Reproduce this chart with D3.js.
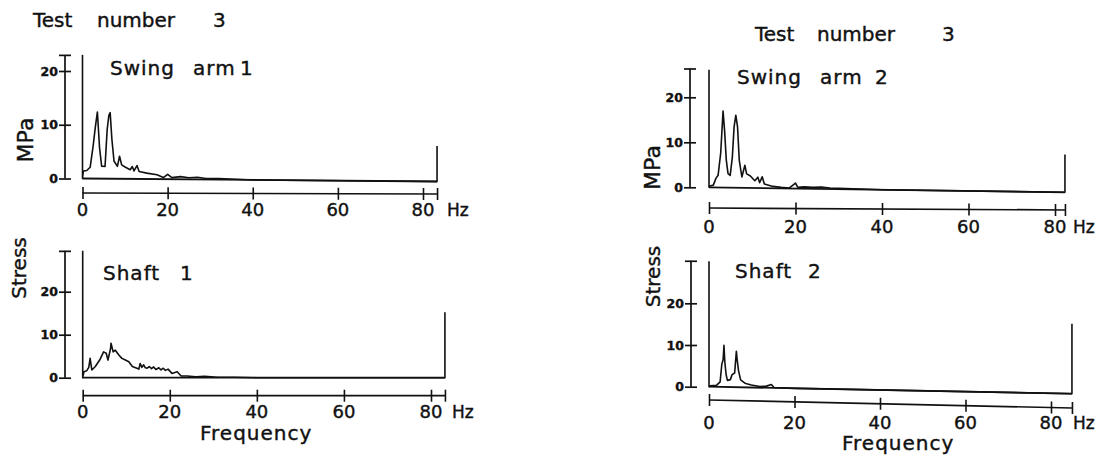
<!DOCTYPE html>
<html><head><meta charset="utf-8">
<script src="https://cdn.jsdelivr.net/npm/d3@7"></script>
<style>
html,body{margin:0;padding:0;background:#fff;}
svg{display:block;background:#fff;}
text{font-family:"DejaVu Sans",sans-serif;fill:#111;stroke:#111;stroke-width:0.4px;}
</style></head><body>
<svg id="chart" width="1099" height="461"></svg>
<script>
// ---- data ----------------------------------------------------------------
const testTitle = ["Test", "number", "3"];
const panelNames = ["Swing arm 1", "Shaft 1", "Swing arm 2", "Shaft 2"];
const yAxisLabels = ["MPa", "Stress", "MPa", "Stress"];
const freqTicks = [0, 20, 40, 60, 80];
const stressTicks = [0, 10, 20];
const stressAxisTop = [23, 29.5, 26.4, 30.2];
const freqEnd = [83.3, 83.2, 82.3, 84.9];

// amplitude spectra: frequency in Hz, stress amplitude in MPa
const swingArm1Freq = [0, 0, 0.2, 1.0, 1.8, 2.5, 3.0, 3.5, 4.0, 4.5, 5.3, 5.8, 6.2, 6.5, 6.9, 7.4, 8.2, 8.7, 9.2, 10.0, 11.2, 11.7, 12.1, 12.8, 13.3, 15.1, 17.5, 19.0, 20.0, 21.0, 23.0, 25.0, 27.0, 29.0, 32.0, 36.0, 40.0, 83.3, 83.3];
const swingArm1Stress = [23, 0, 1.4, 1.5, 2.1, 6.1, 9.5, 12.4, 5.8, 2.3, 2.3, 9.2, 11.8, 12.3, 7.4, 3.3, 2.3, 4.2, 2.6, 2.2, 1.7, 2.3, 1.5, 2.5, 1.4, 1.1, 0.8, 0.3, 0.9, 0.3, 0.5, 0.3, 0.4, 0.2, 0.2, 0.1, 0, 0, 6.6];

const shaft1Freq = [0, 0, 0.3, 0.9, 1.4, 1.7, 2.1, 2.9, 3.9, 4.8, 5.4, 5.8, 6.4, 6.5, 7.0, 7.5, 8.3, 9.0, 9.8, 10.6, 11.4, 12.9, 13.2, 13.6, 14.0, 14.4, 14.8, 15.3, 15.8, 16.3, 16.8, 17.5, 18.0, 18.5, 19.0, 19.6, 20.5, 21.7, 22.6, 24.0, 26.0, 28.0, 31.0, 35.0, 40.0, 83.2, 83.2];
const shaft1Stress = [29.5, 0, 1.4, 1.6, 2.4, 4.5, 1.8, 2.6, 4.1, 6.0, 5.7, 4.1, 6.8, 8.0, 6.0, 6.4, 5.3, 4.5, 4.1, 3.7, 2.6, 2.0, 3.3, 2.4, 3.0, 2.3, 2.2, 2.6, 2.1, 2.5, 1.9, 2.3, 1.8, 2.2, 1.7, 2.0, 1.0, 1.4, 0.4, 0.4, 0.2, 0.3, 0.1, 0.1, 0, 0, 15.2];

const swingArm2Freq = [0, 0, 0.2, 1.0, 1.6, 2.1, 2.7, 3.0, 3.25, 3.6, 4.0, 4.4, 4.9, 5.4, 5.8, 6.2, 6.6, 7.0, 7.6, 8.3, 8.7, 9.5, 10.6, 11.3, 11.7, 12.3, 12.8, 14.8, 16.7, 18.6, 20.0, 20.5, 22.0, 24.0, 26.0, 28.0, 30.0, 35.0, 40.0, 82.3, 82.3];
const swingArm2Stress = [26.1, 0, 0.3, 0.5, 2.0, 2.7, 7.6, 12.7, 17.0, 12.7, 6.1, 3.1, 2.7, 6.8, 13.5, 16.1, 13.5, 6.1, 2.4, 5.0, 3.1, 2.7, 1.6, 2.4, 1.2, 2.5, 0.9, 0.4, 0.2, 0.1, 1.2, 0.3, 0.4, 0.3, 0.4, 0.2, 0.2, 0.1, 0, 0, 8.4];

const shaft2Freq = [0, 0, 0.2, 1.8, 2.6, 3.0, 3.3, 3.5, 3.7, 4.0, 4.3, 5.0, 5.4, 6.0, 6.2, 6.4, 6.6, 6.9, 7.4, 8.4, 9.9, 11.9, 13.4, 14.6, 15.2, 20.0, 84.9, 84.9];
const shaft2Stress = [30.1, 0, 0.2, 0.4, 1.2, 5.5, 6.5, 10.0, 6.0, 3.0, 1.6, 1.8, 3.0, 3.4, 6.0, 8.6, 6.5, 4.0, 1.8, 1.0, 0.6, 0.3, 0.4, 0.8, 0.1, 0, 0, 16.8];

const spectraFreq = [swingArm1Freq, shaft1Freq, swingArm2Freq, shaft2Freq];
const spectraStress = [swingArm1Stress, shaft1Stress, swingArm2Stress, shaft2Stress];

// ---- layout of the four panels ------------------------------------------
const layout = [
  {yAxisX: 65, xZero: 82.5, xEighty: 423, yZero: 178.5, yTwenty: 71, xAxisY: 193, tickLabelY: 216, hzX: 447,
   drift: 3, axisDrift: 1, nameX: [110, 193, 240], nameY: 75, yLab: {x: 33, y: 140, size: 22},
   title: {x: [33, 97, 213], y: 27}, freqLabel: null},
  {yAxisX: 65, xZero: 82.7, xEighty: 431, yZero: 377.7, yTwenty: 291.7, xAxisY: 395.7, tickLabelY: 418, hzX: 452,
   drift: 0, axisDrift: 0, nameX: [103, 180], nameY: 280, yLab: {x: 26, y: 268, size: 20},
   title: null, freqLabel: {x: 200, y: 440}},
  {yAxisX: 690, xZero: 709, xEighty: 1055, yZero: 187.3, yTwenty: 97.3, xAxisY: 208, tickLabelY: 233, hzX: 1073,
   drift: 5, axisDrift: 2, nameX: [737, 820, 875], nameY: 84, yLab: {x: 660, y: 167.5, size: 22},
   title: {x: [755, 817, 942], y: 41}, freqLabel: null},
  {yAxisX: 691, xZero: 709, xEighty: 1051, yZero: 386.7, yTwenty: 303.3, xAxisY: 400, tickLabelY: 429, hzX: 1073,
   drift: 7, axisDrift: 8, nameX: [735, 808], nameY: 278, yLab: {x: 660, y: 276.5, size: 20},
   title: null, freqLabel: {x: 842, y: 450}}
];

const ink = "#111";
const svg = d3.select("#chart");

// shear about (x0, y0) so the trace drops by `drop` px over `width` px
function skew(x0, y0, drop, width) {
  const ang = Math.atan(drop / width) * 180 / Math.PI;
  return `translate(${x0},${y0}) skewY(${ang}) translate(${-x0},${-y0})`;
}

layout.forEach((L, i) => {
  const g = svg.append("g");
  const fEnd = freqEnd[i];
  const x = d3.scaleLinear().domain([0, 80]).range([L.xZero, L.xEighty]);
  const y = d3.scaleLinear().domain([0, 20]).range([L.yZero, L.yTwenty]);
  const xEnd = x(fEnd);

  // stress axis with crossing ticks and a cap at the top
  const yAxis = d3.axisLeft(y).tickValues(stressTicks.concat([stressAxisTop[i]]))
    .tickSize(6).tickPadding(1).tickFormat(d => stressTicks.includes(d) ? d : "");
  const ya = g.append("g").attr("transform", `translate(${L.yAxisX},0)`).call(yAxis);
  ya.select(".domain").remove();
  ya.append("line").attr("x1", 0).attr("x2", 0).attr("y1", y(0)).attr("y2", y(stressAxisTop[i]))
    .attr("stroke", ink).attr("stroke-width", 1.7);
  ya.selectAll(".tick line").attr("x1", -6).attr("x2", 6).attr("stroke", ink).attr("stroke-width", 1.7);
  ya.selectAll(".tick text").attr("font-family", "DejaVu Sans Condensed").attr("font-weight", "bold")
    .attr("font-size", 12.5).attr("fill", ink).attr("x", -7);

  // frequency axis: line and ticks follow the slight drift of the trace
  const xg = g.append("g").attr("transform", skew(L.xZero, L.xAxisY, L.axisDrift, xEnd - L.xZero));
  const xAxis = d3.axisBottom(x).tickValues(freqTicks.concat([fEnd])).tickSize(6).tickFormat("");
  const xa = xg.append("g").attr("transform", `translate(0,${L.xAxisY})`).call(xAxis);
  xa.select(".domain").remove();
  xa.append("line").attr("x1", L.xZero).attr("x2", xEnd).attr("y1", 0).attr("y2", 0)
    .attr("stroke", ink).attr("stroke-width", 1.7);
  xa.selectAll(".tick line").attr("y1", -6).attr("y2", 6).attr("stroke", ink).attr("stroke-width", 1.6);

  // frequency tick labels
  g.selectAll(".flab").data(freqTicks).join("text").attr("class", "flab")
    .attr("x", d => x(d)).attr("y", L.tickLabelY).attr("text-anchor", "middle")
    .attr("font-size", 18).text(d => d);
  g.append("text").attr("x", L.hzX).attr("y", L.tickLabelY).attr("font-size", 17).text("Hz");

  // spectrum trace and its zero line
  const pg = g.append("g").attr("transform", skew(L.xZero, L.yZero, L.drift, xEnd - L.xZero));
  const line = d3.line().x(d => x(d[0])).y(d => y(d[1]));
  pg.append("path").attr("d", line([[0, 0], [fEnd, 0]]))
    .attr("fill", "none").attr("stroke", ink).attr("stroke-width", 1.8);
  const pts = spectraFreq[i].map((f, k) => [f, spectraStress[i][k]]);
  pg.append("path").attr("d", line(pts)).attr("fill", "none").attr("stroke", ink)
    .attr("stroke-width", 1.6).attr("stroke-linejoin", "round");

  // panel name
  const nameText = g.append("text").attr("y", L.nameY).attr("font-size", 20).attr("letter-spacing", 1);
  panelNames[i].split(" ").forEach((w, k) => nameText.append("tspan").attr("x", L.nameX[k]).text(w));

  // vertical axis label
  g.append("text").attr("transform", `translate(${L.yLab.x},${L.yLab.y}) rotate(-90)`)
    .attr("text-anchor", "middle").attr("font-size", L.yLab.size).text(yAxisLabels[i]);

  if (L.title) {
    const t = g.append("text").attr("y", L.title.y).attr("font-size", 20);
    testTitle.forEach((w, k) => t.append("tspan").attr("x", L.title.x[k]).text(w));
  }
  if (L.freqLabel) {
    g.append("text").attr("x", L.freqLabel.x).attr("y", L.freqLabel.y).attr("font-size", 20)
      .attr("letter-spacing", 1).text("Frequency");
  }
});
</script>
</body></html>
